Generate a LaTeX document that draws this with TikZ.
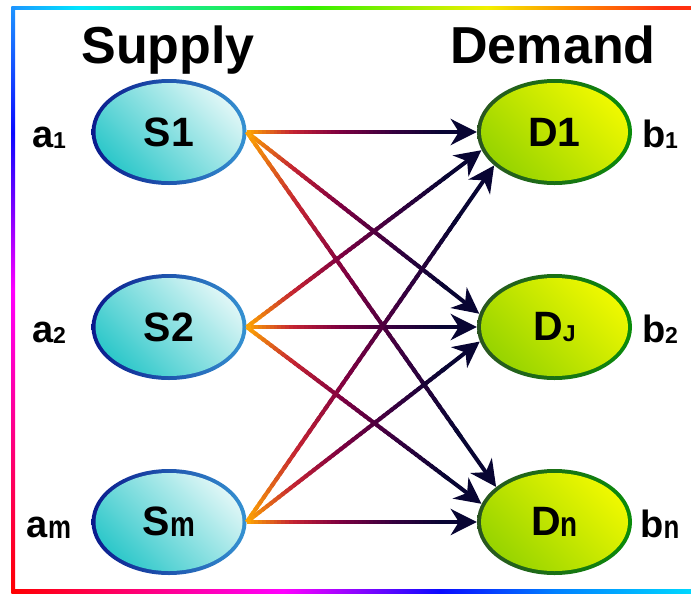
\documentclass[tikz,border=0pt]{standalone}
\usepackage{fontspec}
\usepackage{graphicx}
\setmainfont{Liberation Sans}
\usetikzlibrary{shapes.geometric,arrows.meta,calc}

% connector gradient stops
\definecolor{gOr}{HTML}{FFA800}
\definecolor{gRd}{HTML}{C42432}
\definecolor{gMr}{HTML}{7F0040}
\definecolor{gPu}{HTML}{33003F}
\definecolor{gNv}{HTML}{080533}
% ellipse colours
\definecolor{sEdgeL}{HTML}{0A1A8C}
\definecolor{sEdgeR}{HTML}{3592D2}
\definecolor{sFillD}{HTML}{2FC8CA}
\definecolor{sFillL}{HTML}{DDF6F6}
\definecolor{dEdgeL}{HTML}{2A5520}
\definecolor{dEdgeR}{HTML}{0A8C0A}
\definecolor{dFillD}{HTML}{98D400}
\definecolor{dFillL}{HTML}{EEF800}
% border colours
\definecolor{bRed}{HTML}{FF0000}
\definecolor{bMag}{HTML}{FF00FF}
\definecolor{bVio}{HTML}{8000FF}
\definecolor{bBlue}{HTML}{0A0AFF}
\definecolor{bAzure}{HTML}{1E96FF}
\definecolor{bCyan}{HTML}{00E6FF}
\definecolor{bGreen}{HTML}{30F000}
\definecolor{bYellow}{HTML}{F2F000}
\definecolor{bOrange}{HTML}{FF9000}
\definecolor{bRedOr}{HTML}{FF3010}
\definecolor{bAz2}{HTML}{0080FF}
\definecolor{bCy2}{HTML}{00D8FF}

\pgfdeclareverticalshading{leftbar}{100bp}{color(0bp)=(bRed); color(25bp)=(bRed); color(50.75bp)=(bMag); color(57.5bp)=(bVio); color(64.2bp)=(bBlue); color(75bp)=(bAzure); color(100bp)=(bAzure)}
\pgfdeclarehorizontalshading{topbar}{100bp}{color(0bp)=(bAzure); color(25bp)=(bAzure); color(30bp)=(bCyan); color(47bp)=(bGreen); color(60bp)=(bYellow); color(66bp)=(bOrange); color(73bp)=(bRedOr); color(75bp)=(bRedOr); color(100bp)=(bRedOr)}
\pgfdeclarehorizontalshading{botbar}{100bp}{color(0bp)=(bRed); color(25bp)=(bRed); color(45bp)=(bMag); color(56.5bp)=(bBlue); color(65bp)=(bAz2); color(75bp)=(bCy2); color(100bp)=(bCy2)}

\newcommand\titlef{\fontsize{52}{52}\selectfont\bfseries}
\newcommand\nodef{\fontsize{41}{41}\selectfont\bfseries}
\newcommand\labf{\fontsize{38}{38}\selectfont\bfseries}
\newcommand\subsc[1]{\raisebox{-1.5pt}{\fontsize{23}{23}\selectfont #1}}
\newcommand\subl[1]{\raisebox{-1pt}{\scalebox{0.68}[0.86]{#1}}}

\newcommand\setsegcolor[1]{%
  \pgfmathsetmacro\gT{#1}%
  \ifdim\gT pt<0.2pt
    \pgfmathtruncatemacro\gP{100-500*\gT}\colorlet{segc}{gOr!\gP!gRd}%
  \else\ifdim\gT pt<0.4pt
    \pgfmathtruncatemacro\gP{100-500*(\gT-0.2)}\colorlet{segc}{gRd!\gP!gMr}%
  \else\ifdim\gT pt<0.65pt
    \pgfmathtruncatemacro\gP{100-400*(\gT-0.4)}\colorlet{segc}{gMr!\gP!gPu}%
  \else
    \pgfmathtruncatemacro\gP{max(0,100-500*(\gT-0.65))}\colorlet{segc}{gPu!\gP!gNv}%
  \fi\fi\fi}

\newcommand\gradarrow[2]{%
  \foreach \k in {0,...,50}{%
    \pgfmathsetmacro\gA{\k/60}%
    \pgfmathsetmacro\gB{(\k+1.6)/60}%
    \setsegcolor{(\k+0.5)/60}%
    \draw[conn,segc] ($(#1)!\gA!(#2)$) -- ($(#1)!\gB!(#2)$);
  }%
  \draw[conn,gNv,headstyle] ($(#1)!0.84!(#2)$) -- (#2);
}

\begin{document}
\begin{tikzpicture}[x=1pt,y=-1pt,
  souter/.style={ellipse, inner sep=0pt, minimum width=155pt, minimum height=106pt, left color=sEdgeL, right color=sEdgeR},
  sinner/.style={ellipse, inner sep=0pt, minimum width=147pt, minimum height=98pt, top color=sFillL, bottom color=sFillD, shading angle=-45, font=\nodef},
  douter/.style={ellipse, inner sep=0pt, minimum width=155pt, minimum height=106pt, left color=dEdgeL, right color=dEdgeR},
  dinner/.style={ellipse, inner sep=0pt, minimum width=147pt, minimum height=98pt, top color=dFillL, bottom color=dFillD, shading angle=-45, font=\nodef},
  title/.style={font=\titlef, anchor=base},
  lab/.style={font=\labf, anchor=base},
  conn/.style={line width=4pt},
  headstyle/.style={-{Stealth[length=26pt,width=26pt,inset=8pt]}}
]
\useasboundingbox (0,0) rectangle (691,595);

% rainbow frame
\shade[shading=topbar] (11.5,6) rectangle (691,9.5);
\shade[shading=botbar] (11.5,589.5) rectangle (691,593);
\shade[shading=leftbar] (11.5,6) rectangle (15,593);

% titles
\node[title] (sup) at (168,63) {Supply};
\node[title] (dem) at (553,63) {Demand};

% supply nodes
\node[souter] (S1) at (169,132) {};
\node[sinner] (S1t) at (S1.center) {S1};
\node[souter] (S2) at (169,327) {};
\node[sinner] (S2t) at (S2.center) {S2};
\node[souter] (Sm) at (169,522) {};
\node[sinner] (Smt) at (Sm.center) {S\subl{m}};

% demand nodes
\node[douter] (D1) at (554.5,132) {};
\node[dinner] (D1t) at (D1.center) {D1};
\node[douter] (DJ) at (554.5,327) {};
\node[dinner] (DJt) at (DJ.center) {D\subsc{J}};
\node[douter] (Dn) at (554.5,522) {};
\node[dinner] (Dnt) at (Dn.center) {D\subl{n}};

% side labels
\node[lab] (a1) at (49,147) {a\subsc{1}};
\node[lab] (a2) at (49,342) {a\subsc{2}};
\node[lab] (am) at (49,537) {a\subl{m}};
\node[lab] (b1) at (660,147) {b\subsc{1}};
\node[lab] (b2) at (660,342) {b\subsc{2}};
\node[lab] (bn) at (660,537) {b\subl{n}};

% connectors
\gradarrow{S1.east}{D1.180}
\gradarrow{S1.east}{DJ.170}
\gradarrow{S1.east}{Dn.149}
\gradarrow{S2.east}{D1.194}
\gradarrow{S2.east}{DJ.180}
\gradarrow{S2.east}{Dn.166}
\gradarrow{Sm.east}{D1.209}
\gradarrow{Sm.east}{DJ.191}
\gradarrow{Sm.east}{Dn.180}
\end{tikzpicture}
\end{document}
